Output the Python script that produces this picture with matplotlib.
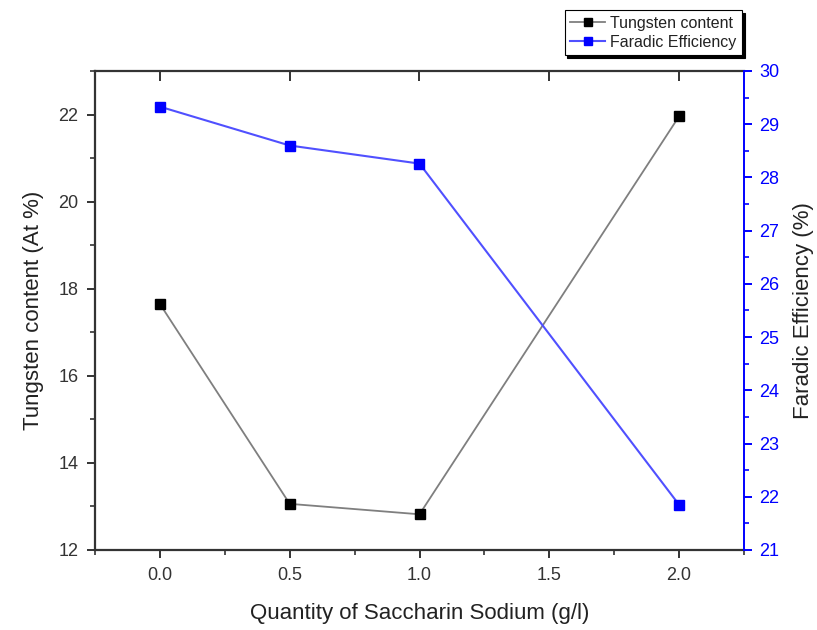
import matplotlib
matplotlib.use("Agg")
import matplotlib.pyplot as plt
from matplotlib.ticker import MultipleLocator

plt.rcParams['font.family'] = ['Liberation Sans', 'DejaVu Sans']

saccharin = [0.0, 0.5, 1.0, 2.0]
tungsten = [17.65, 13.06, 12.82, 21.96]
faradic = [29.33, 28.6, 28.26, 21.85]

x_ticks = [0.0, 0.5, 1.0, 1.5, 2.0]
x_tick_labels = ["0.0", "0.5", "1.0", "1.5", "2.0"]

dark = "#333333"
blue = "#0000ff"

fig = plt.figure(figsize=(8.17, 6.30), dpi=100)
ax = fig.add_axes([95 / 817, 1 - 550 / 630, (744 - 95) / 817, (550 - 71) / 630])
ax2 = ax.twinx()

ln1, = ax.plot(saccharin, tungsten, color="#7f7f7f", lw=1.3, marker="s",
               ms=7, mfc="black", mec="black", label="Tungsten content", zorder=3)
ln2, = ax2.plot(saccharin, faradic, color="#5050ff", lw=1.5, marker="s",
                ms=7, mfc=blue, mec=blue, label="Faradic Efficiency", zorder=3)

ax.set_xlim(-0.25, 2.25)
ax.set_ylim(12, 23)
ax2.set_ylim(21, 30)

ax.set_xticks(x_ticks)
ax.set_xticklabels(x_tick_labels)
ax.xaxis.set_minor_locator(MultipleLocator(0.25))
ax.yaxis.set_major_locator(MultipleLocator(2))
ax.yaxis.set_minor_locator(MultipleLocator(1))
ax2.yaxis.set_major_locator(MultipleLocator(1))
ax2.yaxis.set_minor_locator(MultipleLocator(0.5))

for side in ["left", "bottom", "top"]:
    ax.spines[side].set_color(dark)
    ax.spines[side].set_linewidth(1.6)
ax.spines["right"].set_visible(False)
for side in ["left", "bottom", "top"]:
    ax2.spines[side].set_visible(False)
ax2.spines["right"].set_color(blue)
ax2.spines["right"].set_linewidth(1.4)

ax.tick_params(axis="both", which="major", direction="out", length=6, width=1.4,
               color=dark, labelcolor=dark, labelsize=13, pad=6)
ax.tick_params(axis="both", which="minor", direction="out", length=3.5, width=1.2, color=dark)

# inward major ticks along the top edge
top = ax.secondary_xaxis("top")
top.set_xticks(x_ticks)
top.tick_params(axis="x", which="major", direction="in", length=7, width=1.4,
                color=dark, labeltop=False)
top.xaxis.set_minor_locator(MultipleLocator(10))
top.spines["top"].set_visible(False)

ax2.tick_params(axis="y", which="major", direction="out", length=6, width=1.4,
                color=blue, labelcolor=blue, labelsize=13, pad=5)
ax2.tick_params(axis="y", which="minor", direction="out", length=3.5, width=1.2, color=blue)

ax.set_xlabel("Quantity of Saccharin Sodium (g/l)", fontsize=16, color="#222222", labelpad=14)
ax.set_ylabel("Tungsten content (At %)", fontsize=16, color="#222222", labelpad=10)
ax2.set_ylabel("Faradic Efficiency (%)", fontsize=16, color="#222222", labelpad=10)

leg = fig.legend([ln1, ln2], ["Tungsten content", "Faradic Efficiency"],
                 loc="upper right", bbox_to_anchor=(742 / 817, 1 - 10 / 630),
                 fontsize=11.5, frameon=True, fancybox=False,
                 shadow={"color": "black", "alpha": 1.0},
                 handlelength=2.2, handletextpad=0.3, borderpad=0.35,
                 labelspacing=0.25, borderaxespad=0, markerscale=0.8)
leg.get_frame().set_edgecolor("black")
leg.get_frame().set_linewidth(0.8)
for txt in leg.get_texts():
    txt.set_color("#222222")

fig.savefig("out.png", dpi=100)
